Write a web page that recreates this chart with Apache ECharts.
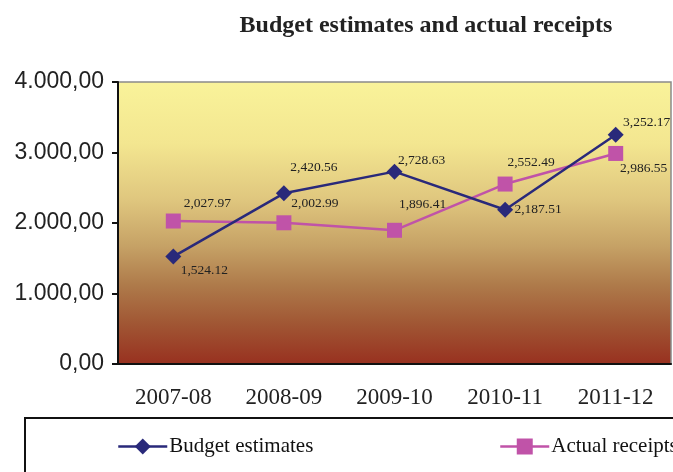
<!DOCTYPE html>
<html>
<head>
<meta charset="utf-8">
<script src="https://cdn.jsdelivr.net/npm/echarts@6/dist/echarts.min.js"></script>
<style>html,body{margin:0;padding:0;background:#fff}#c{width:673px;height:472px}</style>
</head>
<body>
<div id="c"></div>
<script>
const categories = ['2007-08', '2008-09', '2009-10', '2010-11', '2011-12'];
const budgetEstimates = [1524.12, 2420.56, 2728.63, 2187.51, 3252.17];
const actualReceipts = [2027.97, 2002.99, 1896.41, 2552.49, 2986.55];
const yTicks = [0, 1000, 2000, 3000, 4000];

// label offsets (style only)
const budgetLabelOffsets = [[31, 14], [30, -26], [27, -11], [33, 0], [31, -12]];
const actualLabelOffsets = [[34, -18], [31, -19], [28, -26], [26, -22], [28, 15]];

function fmtLabel(v) {
  const p = v.toFixed(2).split('.');
  return p[0].replace(/\B(?=(\d{3})+(?!\d))/g, ',') + '.' + p[1];
}
function fmtAxis(v) {
  const p = v.toFixed(2).split('.');
  return p[0].replace(/\B(?=(\d{3})+(?!\d))/g, '.') + ',' + p[1];
}

const serif = '"Liberation Serif", "Times New Roman", serif';
const sans = '"Liberation Sans", Arial, sans-serif';
const navy = '#29297A';
const pink = '#C053A8';

const chart = echarts.init(document.getElementById('c'), null, {renderer: 'canvas'});
chart.setOption({
  animation: false,
  backgroundColor: '#ffffff',
  title: {
    text: 'Budget estimates and actual receipts',
    left: 421, top: 9, textAlign: 'center',
    textStyle: {fontFamily: serif, fontWeight: 'bold', fontSize: 24, color: '#222'}
  },
  graphic: [{
    type: 'rect', shape: {x: 25, y: 418, width: 700, height: 100},
    style: {fill: 'none', stroke: '#111', lineWidth: 2}, z: 10
  }],
  legend: [
    {data: ['Budget estimates'], left: 112, top: 431, itemWidth: 49, itemHeight: 20, itemGap: 0,
     lineStyle: {width: 2.5},
     textStyle: {fontFamily: serif, fontSize: 21, color: '#111', padding: [0, 0, 0, -3]}},
    {data: ['Actual receipts'], left: 494, top: 431, itemWidth: 49, itemHeight: 20, itemGap: 0,
     lineStyle: {width: 2.5},
     textStyle: {fontFamily: serif, fontSize: 21, color: '#111', padding: [0, 0, 0, -3]}}
  ],
  grid: {
    left: 118, right: 2, top: 82, bottom: 108, containLabel: false,
    show: true, borderColor: '#8a8a8a', borderWidth: 1.5,
    backgroundColor: new echarts.graphic.LinearGradient(0, 0, 0, 1, [
      {offset: 0, color: '#F9F39A'},
      {offset: 0.22, color: '#F3E690'},
      {offset: 0.42, color: '#DFC67E'},
      {offset: 0.58, color: '#C6A266'},
      {offset: 0.72, color: '#AE7A4A'},
      {offset: 0.86, color: '#A05533'},
      {offset: 1, color: '#98301F'}
    ])
  },
  xAxis: {
    type: 'category', data: categories, boundaryGap: true,
    axisLine: {show: true, lineStyle: {color: '#111', width: 2}},
    axisTick: {show: false},
    axisLabel: {fontFamily: serif, fontSize: 23, color: '#222', margin: 22}
  },
  yAxis: {
    type: 'value', min: yTicks[0], max: yTicks[yTicks.length - 1], interval: 1000,
    axisLine: {show: true, lineStyle: {color: '#111', width: 2}},
    axisTick: {show: true, inside: false, length: 6, lineStyle: {color: '#111', width: 2}},
    splitLine: {show: false},
    axisLabel: {fontFamily: sans, fontSize: 23, color: '#222', margin: 14, formatter: fmtAxis}
  },
  series: [
    {
      name: 'Budget estimates', type: 'line',
      data: budgetEstimates.map((v, i) => ({value: v, label: {offset: budgetLabelOffsets[i]}})),
      symbol: 'diamond', symbolSize: 16,
      lineStyle: {color: navy, width: 2.5}, itemStyle: {color: navy},
      label: {show: true, position: 'inside', fontFamily: serif, fontSize: 13.5, color: '#222',
              formatter: p => fmtLabel(p.value)},
      z: 3
    },
    {
      name: 'Actual receipts', type: 'line',
      data: actualReceipts.map((v, i) => ({value: v, label: {offset: actualLabelOffsets[i]}})),
      symbol: 'rect', symbolSize: 15,
      lineStyle: {color: pink, width: 2.5}, itemStyle: {color: pink},
      label: {show: true, position: 'inside', fontFamily: serif, fontSize: 13.5, color: '#222',
              formatter: p => fmtLabel(p.value)},
      z: 2
    }
  ]
});
</script>
</body>
</html>
